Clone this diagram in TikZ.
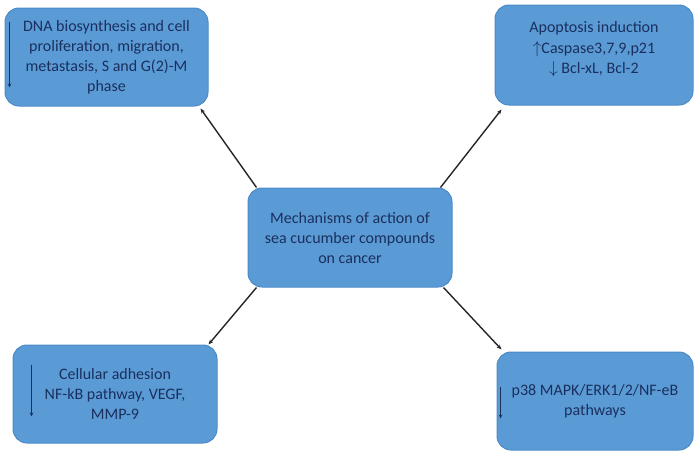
\documentclass[tikz,border=0pt]{standalone}
\usepackage{fontspec}
\setmainfont{Carlito}
\usepackage{tikz}
\usetikzlibrary{arrows.meta, positioning, calc}
\definecolor{box-fill}{HTML}{5B9BD5}
\definecolor{box-edge}{HTML}{4A8AC8}
\definecolor{box-text}{HTML}{1A2F5E}
\definecolor{link}{HTML}{262626}
\tikzset{
  effectbox/.style={draw=box-edge, fill=box-fill, line width=1pt,
    rounded corners=14pt, align=center, text=box-text,
    font=\fontsize{16}{20}\selectfont},
  spoke/.style={link, line width=1.4pt, -{Stealth[length=5pt,width=4pt]}},
  downmark/.style={box-text, line width=1.3pt, -{Stealth[length=4pt,width=3.5pt]}}
}

\begin{document}
\begin{tikzpicture}[x=1pt, y=-1pt]
        \useasboundingbox (0,0) rectangle (694,453);
        % centre and the four effects
        \node[effectbox, minimum width=204pt, minimum height=99pt] (core) at (350,237.5)
              {Mechanisms of action of\\sea cucumber compounds\\on cancer};
        \node[effectbox, minimum width=203pt, minimum height=98pt] (dna) at (106.5,57)
              {DNA biosynthesis and cell\\proliferation, migration,\\metastasis, S and G(2)-M\\phase};
        \node[effectbox, minimum width=198pt, minimum height=100pt] (apop) at (594,55)
              {Apoptosis induction\\[1pt]$\uparrow$Caspase3,7,9,p21\\$\downarrow$ Bcl-xL, Bcl-2\\[-4pt]};
        \node[effectbox, minimum width=204pt, minimum height=98pt] (adh) at (115,394)
              {Cellular adhesion\\NF-kB pathway, VEGF,\\MMP-9};
        \node[effectbox, minimum width=196pt, minimum height=98pt] (mapk) at (595,401)
              {p38 MAPK/ERK1/2/NF-eB\\pathways};
        % decrease marks inside the boxes
        \draw[downmark] ([xshift=5pt, yshift=-14pt]dna.north west)
              -- ([xshift=5pt, yshift=-80pt]dna.north west);
        \draw[downmark] ([xshift=19pt, yshift=-20pt]adh.north west)
              -- ([xshift=19pt, yshift=-72pt]adh.north west);
        \draw[downmark] ([xshift=4pt, yshift=-35pt]mapk.north west)
              -- ([xshift=4pt, yshift=-67pt]mapk.north west);
        % spokes
        \draw[spoke] ([xshift=9pt]core.north west) -- ([xshift=-8pt, yshift=-2pt]dna.south east);
        \draw[spoke] ([xshift=-12pt]core.north east) -- ([xshift=7pt, yshift=-4pt]apop.south west);
        \draw[spoke] ([xshift=9pt]core.south west) -- ([xshift=-9pt]adh.north east);
        \draw[spoke] ([xshift=-9pt]core.south east) -- ([xshift=5pt, yshift=2pt]mapk.north west);
      \end{tikzpicture}
\end{document}
